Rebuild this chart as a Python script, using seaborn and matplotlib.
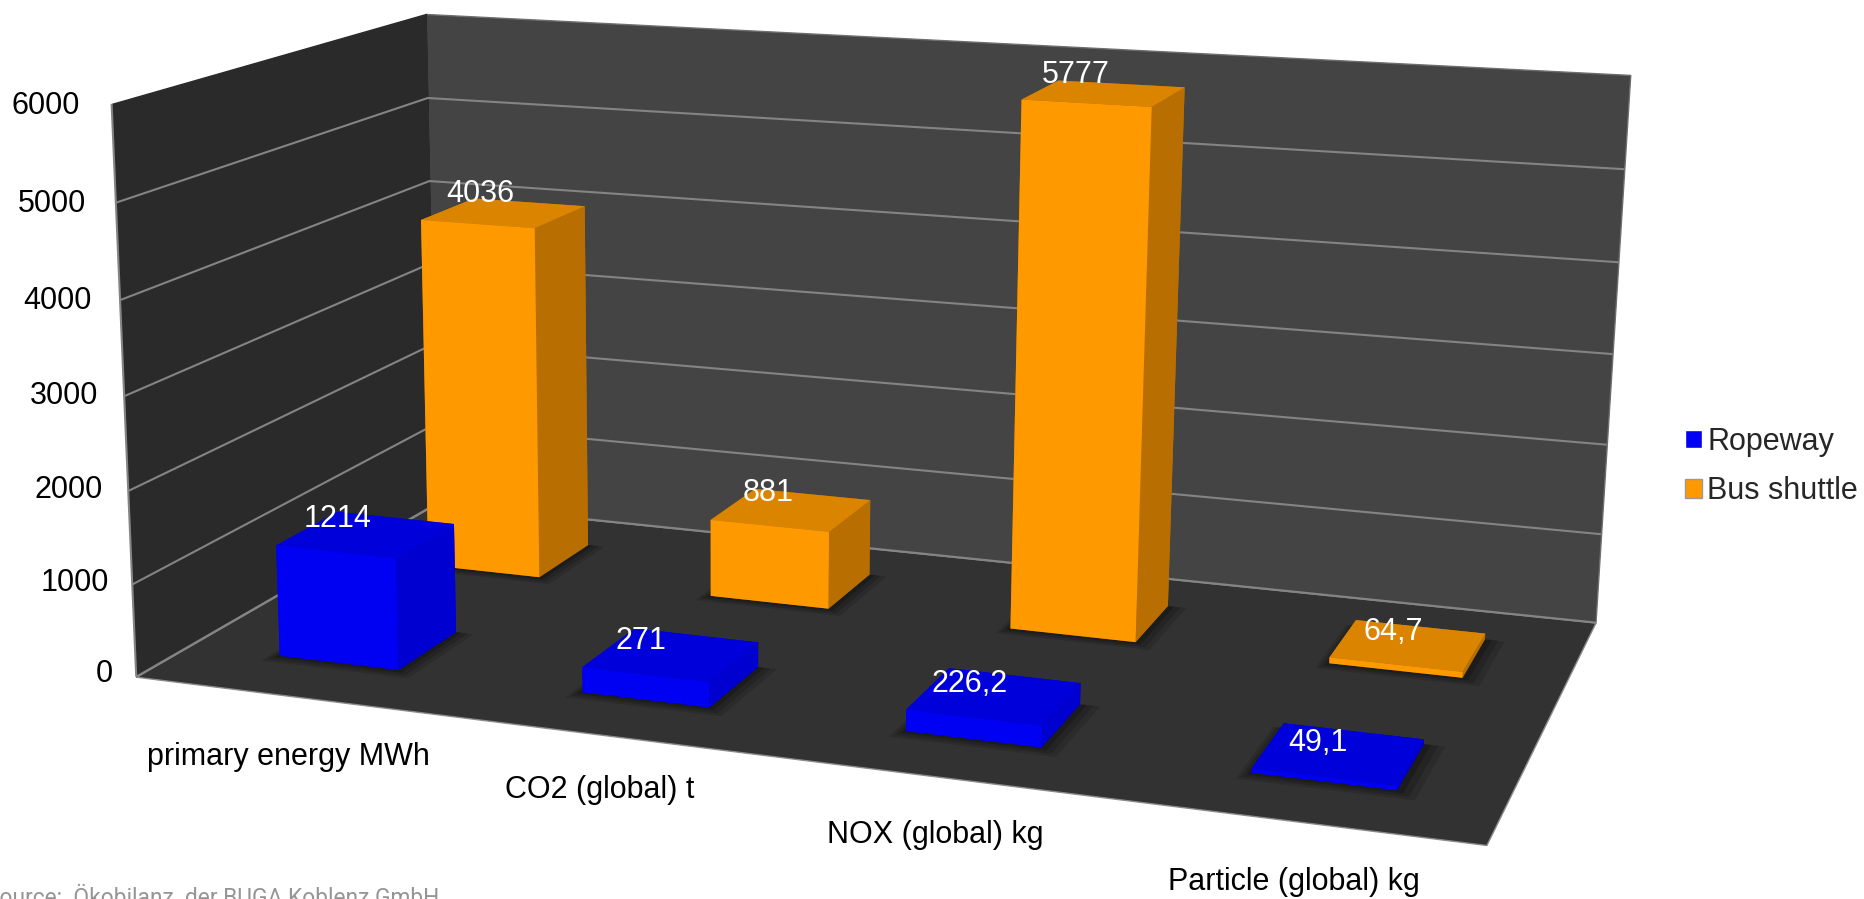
import numpy as np
import pandas as pd
import matplotlib
matplotlib.use('Agg')
import matplotlib.pyplot as plt
from matplotlib.patches import Patch
from mpl_toolkits.mplot3d import proj3d
from mpl_toolkits.mplot3d.art3d import Poly3DCollection, Line3DCollection
import seaborn as sns

# Values
categories = ['primary energy MWh', 'CO2 (global) t', 'NOX (global) kg', 'Particle (global) kg']
ropeway = [1214, 271, 226.2, 49.1]
bus_shuttle = [4036, 881, 5777, 64.7]
ropeway_labels = ['1214', '271', '226,2', '49,1']
bus_labels = ['4036', '881', '5777', '64,7']
z_ticks = [0, 1000, 2000, 3000, 4000, 5000, 6000]

# Label nudges in pixels, from the back left corner of each bar top
ropeway_nudge = [(-6, -7), (0, -12), (14, -15), (27, -19)]
bus_nudge = [(1, 5), (7, -4), (11, 6), (31, -11)]

W, H = 1864, 899
X_MAX, Y_MAX, Z_MAX = 4, 2, 6000
BAR_W, BAR_D = 0.4, 0.39

sns.set_theme(style='white')
plt.rcParams['font.family'] = ['Liberation Sans', 'DejaVu Sans']
blue, orange = sns.color_palette(['#0000f2', '#ff9900'])

df = pd.DataFrame({'category': categories, 'Ropeway': ropeway, 'Bus shuttle': bus_shuttle})

fig = plt.figure(figsize=(W / 100, H / 100), dpi=100)
ax = fig.add_axes([0, (H - W) / 2 / H, 1, W / H], projection='3d')
ax.set_axis_off()
ax.set_xticks([])
ax.set_yticks([])
ax.set_zticks([])
ax.computed_zorder = False
ax.patch.set_visible(False)
ax.apply_aspect()

# Camera: walls of the chart box matched to where they sit in the picture
box = [(0, 0, 0), (X_MAX, 0, 0), (0, Y_MAX, 0), (X_MAX, Y_MAX, 0),
       (0, 0, Z_MAX), (0, Y_MAX, Z_MAX), (X_MAX, Y_MAX, Z_MAX)]
box_px = [(141, 674), (1486, 848), (431, 507), (1597, 619),
          (107, 104), (431, 13), (1629, 76)]

rows = []
for (x, y, z), (u, v) in zip(box, box_px):
    p = [x, y, z / Z_MAX, 1]
    u, v = u / 1000, v / 1000
    rows.append(p + [0, 0, 0, 0] + [-u * c for c in p])
    rows.append([0, 0, 0, 0] + p + [-v * c for c in p])
cam = np.linalg.svd(np.array(rows))[2][-1].reshape(3, 4)
cam = np.diag([1000, 1000, 1]) @ cam @ np.diag([1, 1, 1 / Z_MAX, 1])
cam = cam / (cam[2] @ [X_MAX / 2, Y_MAX / 2, Z_MAX / 2, 1])

# image pixels -> display -> the 2D view coordinates of the 3D axes
flip = np.array([[1, 0, 0], [0, -1, H], [0, 0, 1.0]])
view = ax.transData.inverted().get_matrix() @ flip @ cam
depth = [-0.2, 1.0, -0.5 / Z_MAX, 0]
M = np.array([view[0], view[1], depth, view[2]])
ax.get_proj = lambda: M


def shades(c, top, side):
    # bar3d face order: bottom, top, front, back, left, right
    c = np.array(c)
    return [c * 0.6, c * top, c, c * side, c * side, c * side]


# Walls and floor
wall_xz = [(0, Y_MAX, 0), (X_MAX, Y_MAX, 0), (X_MAX, Y_MAX, Z_MAX), (0, Y_MAX, Z_MAX)]
wall_yz = [(0, 0, 0), (0, Y_MAX, 0), (0, Y_MAX, Z_MAX), (0, 0, Z_MAX)]
floor = [(0, 0, 0), (X_MAX, 0, 0), (X_MAX, Y_MAX, 0), (0, Y_MAX, 0)]
ax.add_collection3d(Poly3DCollection([wall_xz], facecolor='#444444', edgecolor='#6e6e6e', linewidth=1, zorder=1))
ax.add_collection3d(Poly3DCollection([wall_yz], facecolor='#2a2a2a', edgecolor='#2a2a2a', linewidth=1, zorder=1))
ax.add_collection3d(Poly3DCollection([floor], facecolor='#323232', edgecolor='#8a8a8a', linewidth=1, zorder=2))

grid = [[(0, 0, z), (0, Y_MAX, z), (X_MAX, Y_MAX, z)] for z in z_ticks[:-1]]
ax.add_collection3d(Line3DCollection(grid, colors='#848484', linewidths=1.5, zorder=3))
ax.add_collection3d(Line3DCollection([[(0, 0, 0), (0, 0, Z_MAX)]], colors='#848484', linewidths=1.5, zorder=3))

# Bars, back row first
xs = np.arange(len(categories)) + 0.505
series = [('Bus shuttle', 1.52, orange, bus_labels, bus_nudge, 0.86, 0.72),
          ('Ropeway', 0.515, blue, ropeway_labels, ropeway_nudge, 0.9, 0.86)]
for name, row, color, labels, nudge, top, side in series:
    vals = df[name].to_numpy()
    for grow, alpha in [(0.06, 0.12), (0.04, 0.16), (0.02, 0.2)]:
        shadow = [[(x - BAR_W / 2 - grow / 2, row - BAR_D / 2 - grow, 0), (x + BAR_W / 2 + grow, row - BAR_D / 2 - grow, 0),
                   (x + BAR_W / 2 + grow, row + BAR_D / 2, 0), (x - BAR_W / 2 - grow / 2, row + BAR_D / 2, 0)] for x in xs]
        ax.add_collection3d(Poly3DCollection(shadow, facecolor=(0, 0, 0, alpha), edgecolor='none', linewidth=0, zorder=4 if row > 1 else 6))
    ax.bar3d(xs - BAR_W / 2, np.full(4, row - BAR_D / 2), np.zeros(4), BAR_W, BAR_D, vals,
             color=shades(color, top, side) * 4, edgecolor='none', linewidth=0, shade=False, zorder=5 if row > 1 else 7)
    for x, v, lab, off in zip(xs, vals, labels, nudge):
        px, py, _ = proj3d.proj_transform(x - BAR_W / 2 + 0.02, row + BAR_D / 2, v, M)
        ax.annotate(lab, (px, py), xytext=off, textcoords='offset pixels', color='white', fontsize=22,
                    ha='center', va='center', zorder=10)

# Tick labels and category labels sit in figure space
tick_px = [(113, 674), (109, 583), (103, 490), (98, 396), (92, 301), (86, 204), (80, 106)]
for z, (u, v) in zip(z_ticks, tick_px):
    fig.text(u / W, 1 - v / H, str(z), fontsize=22, color='black', ha='right', va='center')
cat_px = [(288, 757), (600, 790), (935, 835), (1294, 882)]
for name, (u, v) in zip(categories, cat_px):
    fig.text(u / W, 1 - v / H, name, fontsize=22, color='black', ha='center', va='center')

fig.legend(handles=[Patch(facecolor=blue, label='Ropeway'), Patch(facecolor=orange, edgecolor='#999999', label='Bus shuttle')],
           loc='center left', bbox_to_anchor=(1685 / W, 1 - 466.5 / H), frameon=False, fontsize=22,
           handlelength=0.55, handleheight=0.55, handletextpad=0.17, labelspacing=0.65, borderpad=0, borderaxespad=0)

fig.text(-14 / W, 1 - 905 / H, 'Source:  Ökobilanz  der BUGA Koblenz GmbH', fontsize=16.4, color='#959595',
         family='Roboto', ha='left', va='baseline')

fig.savefig('out.png', dpi=100)
